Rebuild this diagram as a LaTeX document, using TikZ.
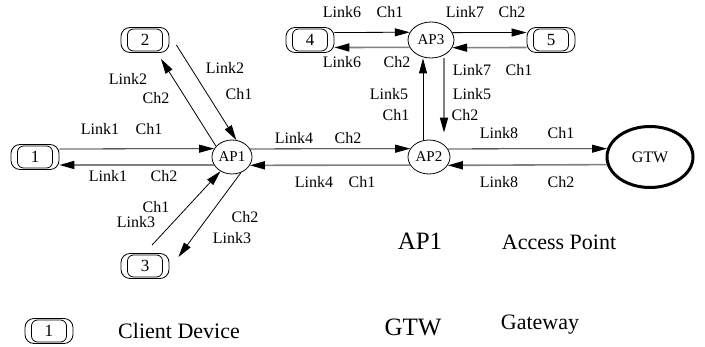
\documentclass[tikz,border=0pt]{standalone}
\usepackage{fontspec}
\setmainfont{Liberation Serif}
\usetikzlibrary{arrows.meta,shapes.geometric}
\begin{document}
\begin{tikzpicture}[x=1pt,y=-1pt,
  lbl/.style={font=\fontsize{16}{18}\selectfont, inner sep=0pt},
  leg/.style={font=\fontsize{22}{24}\selectfont, inner sep=0pt},
  legbig/.style={font=\fontsize{25}{27}\selectfont, inner sep=0pt},
  cdev/.style={draw, rounded corners=9pt, minimum width=48pt, minimum height=25pt, inner sep=0pt, line width=0.8pt},
  cin/.style={draw, rounded corners=6pt, minimum width=35pt, minimum height=22pt, inner sep=0pt, line width=0.8pt, font=\fontsize{17}{18}\selectfont},
  apn/.style={draw, ellipse, inner sep=0pt, line width=0.8pt, font=\fontsize{15}{16}\selectfont},
  fwd/.style={line width=0.8pt, -{Triangle[length=15pt,width=8pt]}},
  bwd/.style={line width=1.6pt, draw=gray, -{Triangle[length=15pt,width=8pt,color=black]}},
]
\useasboundingbox (0,0) rectangle (705,347);

% client devices
\node[cdev] (c1) at (35,157) {};
\node[cin] (c1i) at (c1.center) {1};
\node[cdev] (c2) at (145,40) {};
\node[cin] (c2i) at (c2.center) {2};
\node[cdev] (c3) at (145,266) {};
\node[cin] (c3i) at (c3.center) {3};
\node[cdev] (c4) at (310,40) {};
\node[cin] (c4i) at (c4.center) {4};
\node[cdev] (c5) at (551,40) {};
\node[cin] (c5i) at (c5.center) {5};

% access points and gateway
\node[apn, minimum width=40pt, minimum height=34pt] (ap1) at (232,157) {AP1};
\node[apn, minimum width=42pt, minimum height=34pt] (ap2) at (429,157) {AP2};
\node[apn, minimum width=46pt, minimum height=36pt] (ap3) at (431,40) {AP3};
\node[draw, ellipse, line width=3pt, minimum width=86pt, minimum height=61pt, inner sep=0pt, font=\fontsize{16}{18}\selectfont] (gtw) at (650,157) {GTW};

% Link1
\draw[fwd] ([yshift=8pt]c1.east) -- (ap1.155.6);
\draw[bwd] (ap1.204.4) -- ([yshift=-8pt]c1.east);
% Link2
\draw[fwd] ([xshift=7pt,yshift=-5pt]c2.east) -- (ap1.76);
\draw[fwd] (ap1.146) -- ([xshift=16pt,yshift=-6pt]c2.south);
% Link3
\draw[fwd] ([xshift=7pt,yshift=8pt]c3.north) -- (ap1.231);
\draw[fwd] (ap1.300) -- ([xshift=9pt,yshift=9pt]c3.east);
% Link4
\draw[fwd] (ap1.24.4) -- (ap2.156.6);
\draw[bwd] (ap2.203.4) -- (ap1.335.6);
% Link8
\draw[fwd] (ap2.23.4) -- (gtw.169.5);
\draw[bwd] (gtw.190.5) -- (ap2.336.6);
% Link5
\draw[fwd] ([xshift=-6pt]ap2.north) -- ([xshift=-8pt]ap3.south);
\draw[bwd, shorten >=7pt] ([xshift=13pt]ap3.south) -- ([xshift=15pt]ap2.north);
% Link6
\draw[fwd] ([yshift=7.5pt]c4.east) -- (ap3.160.3);
\draw[bwd] (ap3.199.7) -- ([yshift=-7.5pt]c4.east);
% Link7
\draw[fwd] (ap3.19.7) -- ([yshift=7.5pt]c5.west);
\draw[bwd] ([yshift=-7.5pt]c5.west) -- (ap3.340.3);

% labels
\node[lbl] (t1a) at (100,129) {Link1};
\node[lbl] (t1b) at (149,129) {Ch1};
\node[lbl] (t1c) at (108,176) {Link1};
\node[lbl] (t1d) at (164,176) {Ch2};
\node[lbl] (t2a) at (128,79) {Link2};
\node[lbl] (t2b) at (156,98) {Ch2};
\node[lbl] (t2c) at (225,68) {Link2};
\node[lbl] (t2d) at (239,94) {Ch1};
\node[lbl] (t3a) at (156,207) {Ch1};
\node[lbl] (t3b) at (136,222) {Link3};
\node[lbl] (t3c) at (245,217) {Ch2};
\node[lbl] (t3d) at (232,238) {Link3};
\node[lbl] (t4a) at (294,138) {Link4};
\node[lbl] (t4b) at (348,138) {Ch2};
\node[lbl] (t4c) at (314,182) {Link4};
\node[lbl] (t4d) at (362,182) {Ch1};
\node[lbl] (t5a) at (389,94) {Link5};
\node[lbl] (t5b) at (396,115) {Ch1};
\node[lbl] (t5c) at (472,94) {Link5};
\node[lbl] (t5d) at (465,115) {Ch2};
\node[lbl] (t7c) at (472,70) {Link7};
\node[lbl] (t7d) at (519,70) {Ch1};
\node[lbl] (t6a) at (342,12) {Link6};
\node[lbl] (t6b) at (390,12) {Ch1};
\node[lbl] (t6c) at (342,62) {Link6};
\node[lbl] (t6d) at (397,62) {Ch2};
\node[lbl] (t7a) at (465,12) {Link7};
\node[lbl] (t7b) at (512,12) {Ch2};
\node[lbl] (t8a) at (499,133) {Link8};
\node[lbl] (t8b) at (561,133) {Ch1};
\node[lbl] (t8c) at (499,182) {Link8};
\node[lbl] (t8d) at (561,182) {Ch2};

% legend
\node[cdev] (lc) at (49,331) {};
\node[cin] (lci) at (lc.center) {1};
\node[leg] (lct) at (179,331) {Client Device};
\node[legbig] (lap) at (420,241) {AP1};
\node[leg] (lapt) at (559,242) {Access Point};
\node[legbig] (lgt) at (413,327) {GTW};
\node[leg] (lgtt) at (540,325) {Gateway};
\end{tikzpicture}
\end{document}
